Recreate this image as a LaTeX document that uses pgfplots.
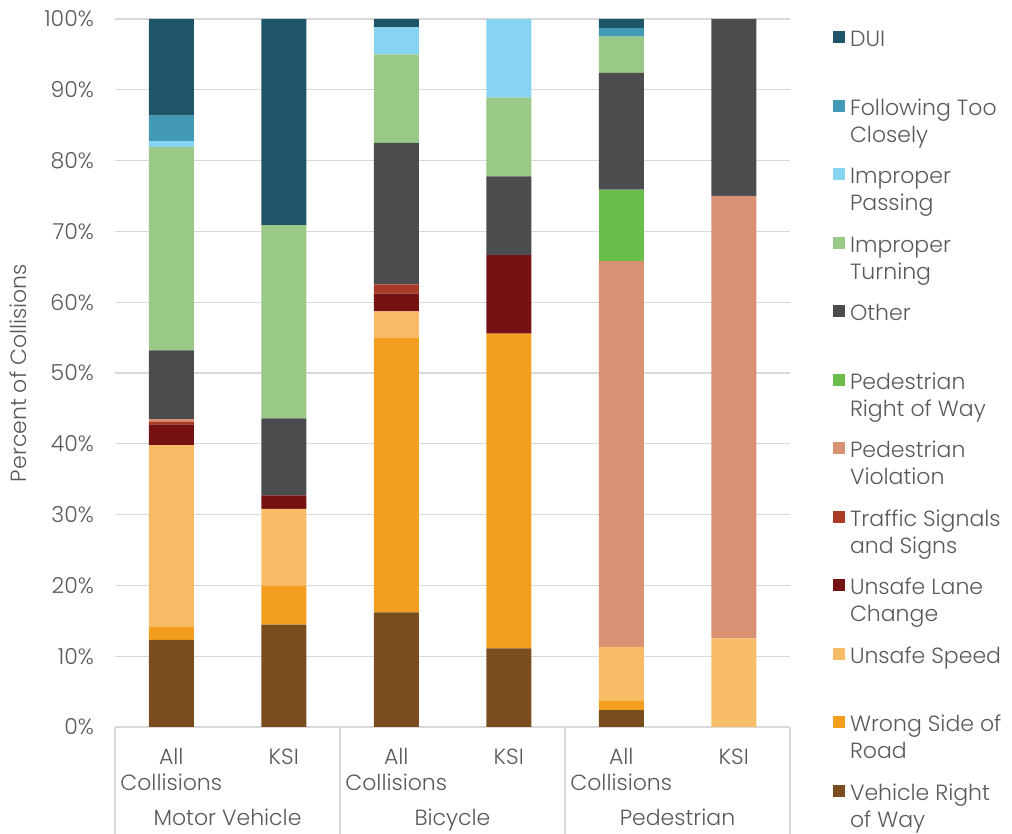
\documentclass[border=0pt]{standalone}
\usepackage{fontspec}
\setmainfont{Poppins}[UprightFont=* Light]
\usepackage{pgfplots}
\usepackage{pgfplotstable}
\pgfplotsset{compat=1.18}
\definecolor{cDUI}{HTML}{1F5568}
\definecolor{cFTC}{HTML}{429AB4}
\definecolor{cIP}{HTML}{86D4F1}
\definecolor{cIT}{HTML}{99C887}
\definecolor{cOTH}{HTML}{4B4C4E}
\definecolor{cPROW}{HTML}{6ABD4A}
\definecolor{cPV}{HTML}{D99174}
\definecolor{cTSS}{HTML}{A83A26}
\definecolor{cULC}{HTML}{771214}
\definecolor{cUS}{HTML}{F8BB66}
\definecolor{cWSR}{HTML}{F49E1F}
\definecolor{cVROW}{HTML}{7A4D1F}
\definecolor{txt}{HTML}{595959}
\definecolor{gridc}{HTML}{D9D9D9}
\pgfplotstableread{
x vrow wsr us ulc tss pv prow oth it ip ftc dui
0 12.3 1.8 25.7 2.95 0.35 0.4 0 9.7 28.7 0.85 3.6 13.65
1 14.45 5.5 10.85 1.9 0 0 0 10.9 27.3 0 0 29.1
2 16.2 38.8 3.7 2.5 1.3 0 0 20.0 12.5 3.8 0 1.2
3 11.11 44.44 0 11.11 0 0 0 11.11 11.11 11.11 0 0
4 2.4 1.3 7.6 0 0 54.5 10.1 16.5 5.1 0 1.2 1.3
5 0 0 12.5 0 0 62.5 0 25 0 0 0 0
}\data
\newcommand\lgd[2]{\strut #1\\\strut #2}
\begin{document}
\begin{tikzpicture}
\useasboundingbox (0,0) rectangle (1012pt,834pt);
\begin{axis}[
  at={(115pt,107pt)}, anchor=south west,
  scale only axis, width=675pt, height=708pt,
  ybar stacked, bar width=45pt,
  xmin=-0.5, xmax=5.5, ymin=0, ymax=100,
  enlarge x limits=false,
  clip=false,
  axis line style={draw=none},
  major tick length=0pt,
  ytick={0,10,...,100},
  yticklabel={\pgfmathprintnumber{\tick}\%},
  /pgf/number format/assume math mode=true,
  yticklabel style={anchor=east, inner sep=0pt, xshift=-21pt, text=txt, font=\fontsize{22}{26}\selectfont},
  xtick={0,1,2,3,4,5},
  xticklabels={{\strut All\\\strut Collisions},{\strut KSI},{\strut All\\\strut Collisions},{\strut KSI},{\strut All\\\strut Collisions},{\strut KSI}},
  xticklabel style={anchor=north, align=center, inner sep=0pt, yshift=-18.8pt, text=txt, font=\fontsize{22}{26}\selectfont},
  ymajorgrids, major grid style={draw=gridc, line width=1.3pt},
  reverse legend,
  legend style={at={(rel axis cs:1,1)}, anchor=north west, xshift=43pt, yshift=-9pt,
    draw=none, fill=none, inner sep=0pt, outer sep=0pt, row sep=21.1pt, column sep=5pt,
    font=\fontsize{22}{27}\selectfont, text=txt,
    nodes={inner sep=0pt, align=left}},
  legend cell align=left,
  legend image code/.code={\fill[#1] (0pt,8.6pt) rectangle (12pt,20.6pt);},
  every axis plot/.append style={draw=none},
]
\addplot[fill=cVROW] table[x=x,y=vrow]{\data}; \addlegendentry{\lgd{Vehicle Right}{of Way}}
\addplot[fill=cWSR] table[x=x,y=wsr]{\data}; \addlegendentry{\lgd{Wrong Side of}{Road}}
\addplot[fill=cUS] table[x=x,y=us]{\data}; \addlegendentry{\lgd{Unsafe Speed}{}}
\addplot[fill=cULC] table[x=x,y=ulc]{\data}; \addlegendentry{\lgd{Unsafe Lane}{Change}}
\addplot[fill=cTSS] table[x=x,y=tss]{\data}; \addlegendentry{\lgd{Traffic Signals}{and Signs}}
\addplot[fill=cPV] table[x=x,y=pv]{\data}; \addlegendentry{\lgd{Pedestrian}{Violation}}
\addplot[fill=cPROW] table[x=x,y=prow]{\data}; \addlegendentry{\lgd{Pedestrian}{Right of Way}}
\addplot[fill=cOTH] table[x=x,y=oth]{\data}; \addlegendentry{\lgd{Other}{}}
\addplot[fill=cIT] table[x=x,y=it]{\data}; \addlegendentry{\lgd{Improper}{Turning}}
\addplot[fill=cIP] table[x=x,y=ip]{\data}; \addlegendentry{\lgd{Improper}{Passing}}
\addplot[fill=cFTC] table[x=x,y=ftc]{\data}; \addlegendentry{\lgd{Following Too}{Closely}}
\addplot[fill=cDUI] table[x=x,y=dui]{\data}; \addlegendentry{\lgd{DUI}{}}
% baseline and group separators
\draw[gridc, line width=1.3pt] (rel axis cs:0,0) -- (rel axis cs:1,0);
\draw[gridc, line width=1.3pt] (rel axis cs:0,0) -- ++(0pt,-110pt);
\draw[gridc, line width=1.3pt] (axis cs:1.5,0) -- ++(0pt,-110pt);
\draw[gridc, line width=1.3pt] (axis cs:3.5,0) -- ++(0pt,-110pt);
\draw[gridc, line width=1.3pt] (rel axis cs:1,0) -- ++(0pt,-110pt);
\node[anchor=base, text=txt, font=\fontsize{22}{26}\selectfont, yshift=-99pt] at (axis cs:0.5,0) {Motor Vehicle};
\node[anchor=base, text=txt, font=\fontsize{22}{26}\selectfont, yshift=-99pt] at (axis cs:2.5,0) {Bicycle};
\node[anchor=base, text=txt, font=\fontsize{22}{26}\selectfont, yshift=-99pt] at (axis cs:4.5,0) {Pedestrian};
\path (rel axis cs:0,0.5) ++(-96.5pt,0pt) node[rotate=90, text=txt, font=\fontsize{22}{26}\selectfont] {Percent of Collisions};
\end{axis}
\end{tikzpicture}
\end{document}
